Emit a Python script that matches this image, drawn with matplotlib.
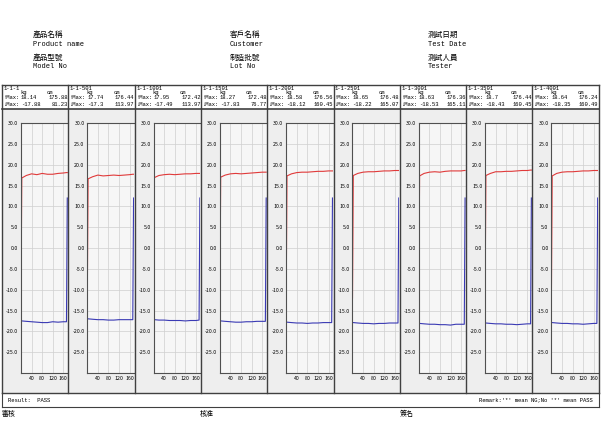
import matplotlib.pyplot as plt
from matplotlib.lines import Line2D
from matplotlib.patches import Rectangle

plt.rcParams['font.family'] = ['Noto Sans CJK TC', 'DejaVu Sans']

W, H = 603, 423

panel_names = ['1-1-1', '1-1-501', '1-1-1001', '1-1-1501', '1-1-2001',
               '1-1-2501', '1-1-3001', '1-1-3501', '1-1-4001']
up_kg = ['18.14', '17.74', '17.95', '18.27', '18.58', '18.65', '18.63', '18.7', '18.64']
up_cm = ['175.88', '176.44', '172.42', '172.48', '176.56', '176.48', '176.36', '176.44', '176.24']
down_kg = ['-17.88', '-17.3', '-17.49', '-17.83', '-18.12', '-18.22', '-18.53', '-18.43', '-18.35']
down_cm = ['81.23', '113.97', '113.97', '76.77', '160.45', '165.07', '165.11', '160.45', '160.49']

# stroke positions (cm) where the curves were read
pos = [0, 3, 20, 40, 60, 80, 100, 120, 140, 160, 172, 175]
red = [
    [-12, 16.8, 17.4, 17.8, 17.6, 17.9, 17.7, 17.7, 17.9, 18.0, 18.1, 18.1],
    [-12, 16.6, 17.1, 17.5, 17.3, 17.4, 17.5, 17.4, 17.5, 17.6, 17.7, 17.7],
    [-12, 16.9, 17.4, 17.6, 17.7, 17.6, 17.7, 17.8, 17.8, 17.9, 17.9, 17.9],
    [-12, 17.0, 17.5, 17.8, 17.9, 17.8, 17.9, 18.0, 18.1, 18.2, 18.2, 18.2],
    [-12, 17.3, 17.8, 18.1, 18.2, 18.2, 18.3, 18.4, 18.4, 18.5, 18.5, 18.5],
    [-12, 17.4, 17.9, 18.2, 18.3, 18.3, 18.4, 18.5, 18.5, 18.6, 18.6, 18.6],
    [-12, 17.3, 17.9, 18.2, 18.3, 18.2, 18.4, 18.5, 18.5, 18.5, 18.6, 18.6],
    [-12, 17.4, 17.9, 18.3, 18.3, 18.4, 18.4, 18.5, 18.6, 18.6, 18.7, 18.7],
    [-12, 17.3, 17.9, 18.2, 18.3, 18.3, 18.4, 18.5, 18.5, 18.6, 18.6, 18.6],
]
blue = [
    [-17.5, -17.5, -17.6, -17.7, -17.8, -17.9, -17.9, -17.7, -17.8, -17.7, -17.7, 12],
    [-16.9, -17.0, -17.1, -17.2, -17.2, -17.3, -17.3, -17.2, -17.2, -17.2, -17.2, 12],
    [-17.2, -17.2, -17.3, -17.3, -17.4, -17.4, -17.4, -17.5, -17.4, -17.4, -17.3, 12],
    [-17.5, -17.5, -17.6, -17.7, -17.8, -17.8, -17.7, -17.7, -17.6, -17.6, -17.6, 12],
    [-17.8, -17.8, -17.9, -18.0, -18.0, -18.1, -18.0, -18.0, -17.9, -17.9, -17.9, 12],
    [-17.9, -17.9, -18.0, -18.1, -18.1, -18.2, -18.1, -18.1, -18.0, -18.0, -18.0, 12],
    [-18.1, -18.1, -18.2, -18.3, -18.3, -18.4, -18.4, -18.5, -18.3, -18.3, -18.3, 12],
    [-18.0, -18.0, -18.1, -18.2, -18.2, -18.3, -18.3, -18.4, -18.3, -18.2, -18.2, 12],
    [-17.9, -17.9, -18.0, -18.1, -18.1, -18.2, -18.2, -18.3, -18.2, -18.1, -18.1, 12],
]

yticks = [30, 25, 20, 15, 10, 5, 0, -5, -10, -15, -20, -25]
xticks = [40, 80, 120, 160]


def fx(x):
    return x / W


def fy(y):
    return 1 - y / H


def hline(fig, x0, x1, y, c='#404040', lw=1.0):
    fig.add_artist(Line2D([fx(x0), fx(x1)], [fy(y), fy(y)], color=c, lw=lw))


def vline(fig, x, y0, y1, c='#404040', lw=1.0):
    fig.add_artist(Line2D([fx(x), fx(x)], [fy(y0), fy(y1)], color=c, lw=lw))


fig = plt.figure(figsize=(W / 100, H / 100), dpi=100)
mono = ['Liberation Mono', 'DejaVu Sans Mono']

# header block
heads = [(33, '產品名稱', 'Product name', '產品型號', 'Model No'),
         (230, '客戶名稱', 'Customer', '制造批號', 'Lot No'),
         (428, '測試日期', 'Test Date', '測試人員', 'Tester')]
for x, c1, e1, c2, e2 in heads:
    fig.text(fx(x), fy(35), c1, fontsize=5.5, va='center')
    fig.text(fx(x), fy(44), e1, fontsize=5, va='center', family=mono)
    fig.text(fx(x), fy(58), c2, fontsize=5.5, va='center')
    fig.text(fx(x), fy(67), e2, fontsize=5, va='center', family=mono)

left0, pw = 2, 66.3
top, hdr, pbot, rbot = 85, 109, 393, 407
ax_top, ax_bot = 123, 373

for i in range(9):
    L = left0 + i * pw
    fig.add_artist(Rectangle((fx(L), fy(pbot)), pw / W, (pbot - hdr) / H,
                             transform=fig.transFigure, color='#eeeeee', lw=0,
                             zorder=-5))
    fig.text(fx(L + 1.5), fy(88.5), panel_names[i], fontsize=4, va='center', family=mono)
    fig.text(fx(L + 18), fy(92.5), 'kg', fontsize=4, va='center', family=mono)
    fig.text(fx(L + 45), fy(92.5), 'cm', fontsize=4, va='center', family=mono)
    fig.text(fx(L + 1), fy(97.5), '↑Max:', fontsize=4, va='center', family=mono)
    fig.text(fx(L + 1), fy(104.5), '↓Max:', fontsize=4, va='center', family=mono)
    fig.text(fx(L + 19), fy(97.5), up_kg[i], fontsize=4, va='center', family=mono)
    fig.text(fx(L + 19), fy(104.5), down_kg[i], fontsize=4, va='center', family=mono)
    fig.text(fx(L + 66), fy(97.5), up_cm[i], fontsize=4, va='center', ha='right', family=mono)
    fig.text(fx(L + 66), fy(104.5), down_cm[i], fontsize=4, va='center', ha='right', family=mono)

    ax = fig.add_axes([fx(L + 19), fy(ax_bot), (pw - 19.5) / W, (ax_bot - ax_top) / H])
    ax.set_facecolor('#f6f6f6')
    ax.plot(pos, red[i], color='#e03a3a', lw=0.8)
    ax.plot(pos, blue[i], color='#3a3ab4', lw=0.8)
    ax.set_xlim(0, 177)
    ax.set_ylim(-30, 30)
    ax.set_yticks(yticks)
    ax.set_yticklabels(['%.1f' % v for v in yticks])
    ax.set_xticks(xticks)
    ax.tick_params(length=0, labelsize=3.8, pad=2)
    ax.grid(True, color='#cfcfcf', lw=0.5)
    for s in ['left', 'bottom', 'top']:
        ax.spines[s].set_color('#505050')
        ax.spines[s].set_linewidth(0.8)
    ax.spines['right'].set_visible(False)

# table frame
hline(fig, left0, left0 + 9 * pw, top)
hline(fig, left0, left0 + 9 * pw, hdr, lw=1.2)
hline(fig, left0, left0 + 9 * pw, pbot)
hline(fig, left0, left0 + 9 * pw, rbot, lw=0.8)
for i in range(10):
    vline(fig, left0 + i * pw, top, pbot, lw=1.0)
vline(fig, left0, pbot, rbot, lw=0.8)
vline(fig, left0 + 9 * pw, pbot, rbot, lw=0.8)

fig.text(fx(8), fy(400), 'Result:  PASS', fontsize=4, va='center', family=mono)
fig.text(fx(593), fy(400), "Remark:'*' mean NG;No '*' mean PASS", fontsize=4,
         va='center', ha='right', family=mono)
fig.text(fx(2), fy(414), '審核', fontsize=5, va='center')
fig.text(fx(200), fy(414), '核准', fontsize=5, va='center')
fig.text(fx(400), fy(414), '簽名', fontsize=5, va='center')

fig.savefig('out.png', dpi=100)
